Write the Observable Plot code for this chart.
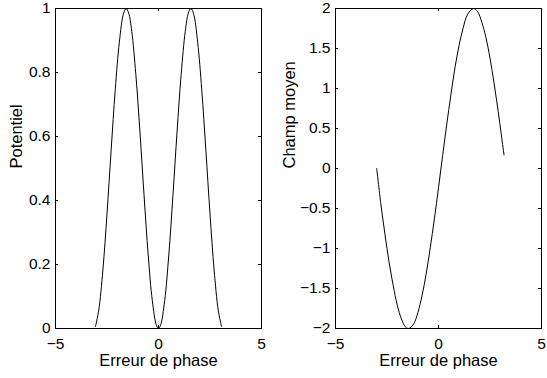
<!DOCTYPE html>
<html>
<head>
<meta charset="utf-8">
<script src="https://cdn.jsdelivr.net/npm/d3@7"></script>
<script src="https://cdn.jsdelivr.net/npm/@observablehq/plot@0.6"></script>
<style>
  html, body { margin: 0; padding: 0; background: #fff; }
  #wrap { display: flex; flex-direction: row; width: 547px; height: 378px; }
</style>
</head>
<body>
<div id="wrap"></div>
<script>
// Shared x axis
const xTicks = [-5, 0, 5];
const xLabel = "Erreur de phase";

// Left panel: Potentiel
const potX = [-3.06, -2.9, -2.7, -2.5, -2.3, -2.1, -1.9, -1.7, -1.57, -1.45, -1.3, -1.1, -0.9, -0.7, -0.5, -0.3, -0.1, 0, 0.1, 0.3, 0.5, 0.7, 0.9, 1.1, 1.3, 1.45, 1.57, 1.7, 1.9, 2.1, 2.3, 2.5, 2.7, 2.9, 3.06];
const potY = [0.006, 0.057, 0.183, 0.358, 0.556, 0.746, 0.895, 0.984, 1.0, 0.986, 0.929, 0.794, 0.614, 0.415, 0.230, 0.087, 0.010, 0, 0.010, 0.087, 0.230, 0.415, 0.614, 0.794, 0.929, 0.986, 1.0, 0.984, 0.895, 0.746, 0.556, 0.358, 0.183, 0.057, 0.006];
const potTicks = [0, 0.2, 0.4, 0.6, 0.8, 1];
const potLabel = "Potentiel";

// Right panel: Champ moyen
const chX = [-3.0, -2.8, -2.6, -2.4, -2.2, -2.0, -1.8, -1.6, -1.45, -1.2, -1.0, -0.8, -0.6, -0.4, -0.2, 0.0, 0.2, 0.4, 0.6, 0.8, 1.0, 1.2, 1.4, 1.69, 1.9, 2.1, 2.3, 2.5, 2.7, 2.9, 3.05, 3.18];
const chY = [0.0, -0.44, -0.82, -1.17, -1.46, -1.71, -1.88, -1.98, -2.0, -1.94, -1.80, -1.59, -1.32, -0.99, -0.63, -0.24, 0.16, 0.55, 0.92, 1.26, 1.54, 1.76, 1.92, 2.0, 1.96, 1.83, 1.64, 1.38, 1.06, 0.71, 0.42, 0.17];
const chTicks = [-2, -1.5, -1, -0.5, 0, 0.5, 1, 1.5, 2];
const chLabel = "Champ moyen";

const fmt = d => String(d).replace("-", "\u2212");
const FONT = "'Liberation Sans', Arial, Helvetica, sans-serif";
const TICK_FS = 15.5;
const LABEL_FS = 16.5;

function panel(xs, ys, yTicks, yLabel, yDomain, width, marginLeft, marginRight) {
  const data = xs.map((x, i) => ({x, y: ys[i]}));
  const height = 378, marginTop = 8, marginBottom = 50;
  const pw = width - marginLeft - marginRight;
  const ph = height - marginTop - marginBottom;
  const tl = 3;
  return Plot.plot({
    width, height, marginLeft, marginRight, marginTop, marginBottom,
    style: {fontFamily: FONT, fontSize: TICK_FS + "px", color: "#000", background: "#fff", overflow: "visible"},
    x: {domain: [-5, 5]},
    y: {domain: yDomain},
    marks: [
      Plot.frame({stroke: "#000", strokeWidth: 1}),
      Plot.tickX(xTicks, {x: d => d, stroke: "#000", insetTop: ph - tl}),
      Plot.tickX(xTicks, {x: d => d, stroke: "#000", insetBottom: ph - tl}),
      Plot.tickY(yTicks, {y: d => d, stroke: "#000", insetRight: pw - tl}),
      Plot.tickY(yTicks, {y: d => d, stroke: "#000", insetLeft: pw - tl}),
      Plot.axisX({ticks: xTicks, tickSize: 0, tickPadding: 9, tickFormat: fmt, label: null, fontSize: TICK_FS}),
      Plot.axisY({ticks: yTicks, tickSize: 0, tickPadding: 5, tickFormat: fmt, label: null, fontSize: TICK_FS}),
      Plot.text([xLabel], {text: d => d, frameAnchor: "bottom", dy: 32, lineAnchor: "middle", fontSize: LABEL_FS, fill: "#000"}),
      Plot.text([yLabel], {text: d => d, frameAnchor: "left", dx: -(marginLeft - 16), rotate: -90, lineAnchor: "middle", fontSize: LABEL_FS, fill: "#000"}),
      Plot.line(data, {x: "x", y: "y", stroke: "#000", strokeWidth: 1, curve: "catmull-rom"})
    ]
  });
}

const wrap = document.getElementById("wrap");
wrap.appendChild(panel(potX, potY, potTicks, potLabel, [0, 1], 273, 55, 12));
wrap.appendChild(panel(chX, chY, chTicks, chLabel, [-2, 2], 274, 62, 6));
</script>
</body>
</html>
